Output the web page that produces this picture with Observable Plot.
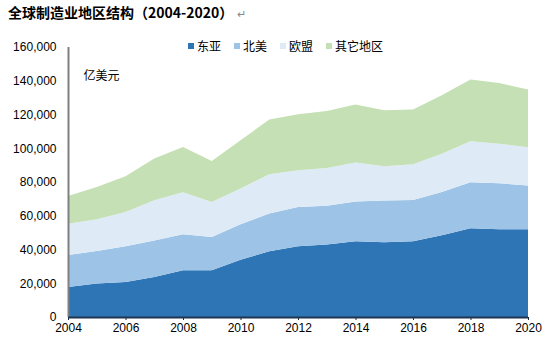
<!DOCTYPE html>
<html>
<head>
<meta charset="utf-8">
<script src="https://cdn.jsdelivr.net/npm/d3@7"></script>
<script src="https://cdn.jsdelivr.net/npm/@observablehq/plot@0.6"></script>
<style>
  html, body { margin: 0; padding: 0; background: #fff; }
  #wrap { position: relative; width: 550px; height: 348px; overflow: hidden; }
  #title { height: 26px; padding-left: 8px; font-family: "Noto Sans CJK SC", sans-serif; font-weight: bold; font-size: 14px; line-height: 24px; color: #000; white-space: nowrap; }
  #title .ret { font-weight: normal; color: #888; font-size: 11px; margin-left: 4px; }
  #legend { position: absolute; top: 37px; left: 188px; font-family: "Noto Sans CJK SC", sans-serif; font-size: 12px; color: #000; display: flex; gap: 0; }
  #legend .item { display: flex; align-items: center; margin-right: 13px; }
  #legend .sw { width: 6px; height: 6px; margin-right: 3px; display: inline-block; }
</style>
</head>
<body>
<div id="wrap">
  <div id="title">全球制造业地区结构（2004-2020）<span class="ret">↵</span></div>
  <div id="chart"></div>
  <div id="legend"></div>
</div>
<script>
const years = [2004,2005,2006,2007,2008,2009,2010,2011,2012,2013,2014,2015,2016,2017,2018,2019,2020];
const seriesNames = ["东亚","北美","欧盟","其它地区"];
const eastAsia     = [17800,19800,20700,23700,27700,27700,34000,38900,41900,42900,44900,44300,44900,48400,52600,52000,52000];
const northAmerica = [18900,19300,21200,21700,21300,19700,20900,22400,23300,23100,23500,24700,24400,25700,27200,27200,26000];
const europeanUnion= [18600,18800,20300,23800,24900,20700,21200,23300,21700,22300,23100,20300,21200,22700,24300,23500,22600];
const otherRegions = [16400,19100,21200,24700,26800,24300,28600,32400,33200,33800,34400,33200,32400,34600,36600,36000,34200];
const seriesColors = ["#2E75B6","#9DC3E6","#DEEBF7","#C5E0B4"];
const yTicks = [0,20000,40000,60000,80000,100000,120000,140000,160000];
const xTicks = [2004,2006,2008,2010,2012,2014,2016,2018,2020];
const unitLabel = "亿美元";

const seriesValues = [eastAsia, northAmerica, europeanUnion, otherRegions];
const rows = [];
seriesNames.forEach((name, si) => {
  years.forEach((yr, i) => rows.push({year: yr, region: name, value: seriesValues[si][i]}));
});

const fmt = d3.format(",");
const chart = Plot.plot({
  width: 550,
  height: 322,
  marginTop: 21,
  marginBottom: 31,
  marginLeft: 68,
  marginRight: 22,
  style: {fontFamily: "'Liberation Sans', Arial, sans-serif", fontSize: "12px", color: "#000", background: "#fff"},
  x: {domain: [2004, 2020], ticks: xTicks, tickFormat: d => String(d), label: null},
  y: {domain: [0, 160000], ticks: yTicks, tickFormat: fmt, label: null},
  color: {domain: seriesNames, range: seriesColors},
  marks: [
    Plot.areaY(rows, {x: "year", y: "value", fill: "region", order: seriesNames, curve: "linear"}),
    Plot.axisY({ticks: yTicks, tickFormat: fmt, tickSize: 0, tickPadding: 12, fontSize: 12, label: null}),
    Plot.axisX({ticks: xTicks, tickFormat: d => String(d), tickSize: 3, tickPadding: 3, fontSize: 12, stroke: "#1a2a3a", label: null}),
    Plot.ruleX([2004], {y1: 0, y2: 160000, stroke: "#808080", strokeWidth: 2}),
    Plot.ruleY([0], {stroke: "#1f3550", strokeWidth: 2}),
    Plot.text([unitLabel], {frameAnchor: "top-left", dx: 15, dy: 24, fontFamily: "'Noto Sans CJK SC', sans-serif", fontSize: 12, fill: "#000", textAnchor: "start"})
  ]
});
document.getElementById("chart").appendChild(chart);

const legend = document.getElementById("legend");
seriesNames.forEach((name, i) => {
  const item = document.createElement("span");
  item.className = "item";
  const sw = document.createElement("span");
  sw.className = "sw";
  sw.style.background = seriesColors[i];
  item.appendChild(sw);
  item.appendChild(document.createTextNode(name));
  legend.appendChild(item);
});
</script>
</body>
</html>
